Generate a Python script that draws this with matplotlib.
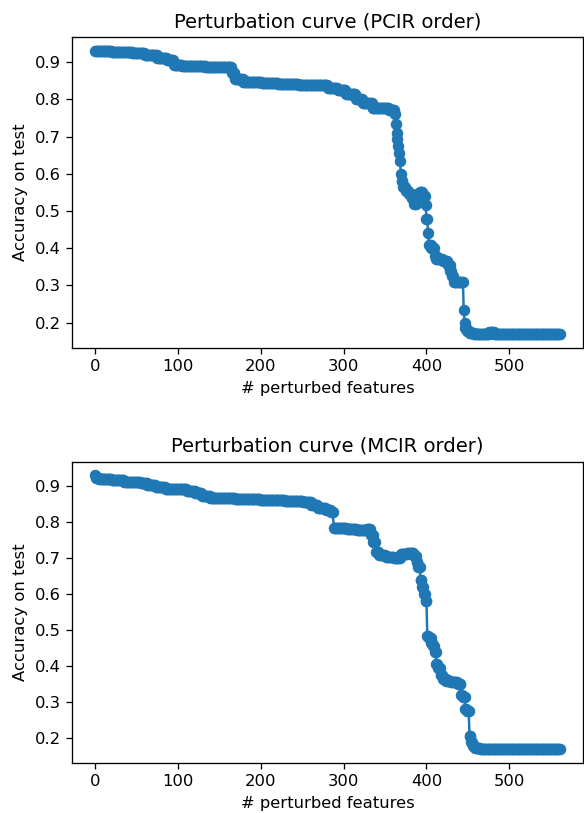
import matplotlib
matplotlib.use('Agg')
import matplotlib.pyplot as plt
import numpy as np

# Accuracy plateaus (value, number of consecutive features)
pcir_levels = [0.930, 0.927, 0.925, 0.920, 0.912, 0.905, 0.893, 0.890, 0.887,
               0.870, 0.855, 0.848, 0.845, 0.842, 0.840, 0.832, 0.825, 0.815,
               0.800, 0.790, 0.778, 0.772,
               0.760, 0.735, 0.710, 0.695, 0.675, 0.655, 0.635, 0.600,
               0.580, 0.565, 0.555, 0.545, 0.535, 0.520, 0.545, 0.550, 0.540,
               0.515, 0.480, 0.440, 0.410, 0.400, 0.380, 0.370, 0.365, 0.355,
               0.340, 0.325, 0.310, 0.235, 0.200, 0.185, 0.178, 0.172, 0.170,
               0.175, 0.170]
pcir_counts = [20, 25, 15, 15, 12, 8, 10, 28, 32,
               4, 10, 22, 20, 25, 35, 12, 10, 12,
               8, 12, 20, 7,
               1, 1, 1, 1, 1, 1, 1, 1,
               2, 3, 4, 3, 3, 3, 4, 4, 3,
               1, 2, 1, 3, 4, 2, 8, 6, 3,
               2, 2, 12, 1, 1, 2, 3, 6, 18,
               6, 80]

mcir_levels = [0.930, 0.922, 0.920, 0.916, 0.913, 0.908, 0.903, 0.897, 0.892,
               0.888, 0.880, 0.873, 0.868, 0.865, 0.862, 0.858, 0.855, 0.847,
               0.840, 0.835, 0.828, 0.785, 0.782, 0.778, 0.782, 0.765, 0.745,
               0.718, 0.710, 0.703, 0.700, 0.712, 0.715, 0.705, 0.690, 0.675,
               0.640, 0.620, 0.600, 0.580, 0.485, 0.478, 0.465, 0.455, 0.440,
               0.405, 0.395, 0.375, 0.365, 0.360, 0.355, 0.350, 0.320, 0.315,
               0.280, 0.275, 0.205, 0.190, 0.178, 0.172, 0.170]
mcir_counts = [1, 4, 15, 15, 20, 8, 10, 12, 26,
               10, 8, 10, 30, 30, 30, 22, 10, 8,
               10, 6, 3, 16, 12, 12, 5, 3, 3,
               4, 8, 10, 8, 8, 8, 3, 2, 3,
               2, 2, 2, 2, 2, 3, 2, 2, 2,
               2, 3, 3, 4, 6, 8, 4, 2, 3,
               2, 3, 2, 2, 3, 6, 97]

pcir_acc = np.repeat(pcir_levels, pcir_counts)
mcir_acc = np.repeat(mcir_levels, mcir_counts)

dpi = 118
fig = plt.figure(figsize=(584 / dpi, 813 / dpi), dpi=dpi)
ax1 = fig.add_axes([0.1233, 0.572, 0.875, 0.3825])
ax2 = fig.add_axes([0.1233, 0.062, 0.875, 0.370])

for ax, acc, name in [(ax1, pcir_acc, 'PCIR'), (ax2, mcir_acc, 'MCIR')]:
    ax.plot(np.arange(len(acc)), acc, marker='o', color='#1f77b4')
    ax.set_title(f'Perturbation curve ({name} order)')
    ax.set_xlabel('# perturbed features')
    ax.set_ylabel('Accuracy on test')

fig.savefig('out.png', dpi=dpi)
